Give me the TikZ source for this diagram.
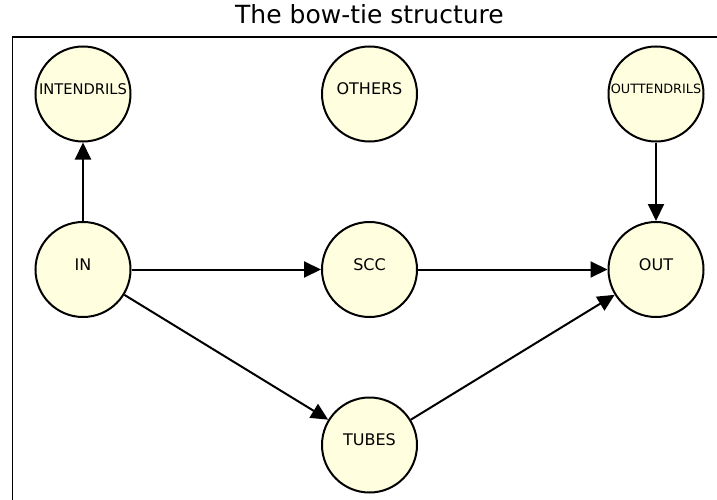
\documentclass[tikz,border=0pt]{standalone}
\usepackage{fontspec}
\setmainfont{DejaVu Sans}
\usetikzlibrary{arrows.meta}
\definecolor{nodefill}{HTML}{FFFFE0}
\tikzset{
  bnode/.style={circle, draw=black, line width=2pt, fill=nodefill, minimum size=95pt, inner sep=0pt},
  lbl/.style={font=\fontsize{16}{19}\selectfont, yshift=5pt},
  edge/.style={line width=2pt, -{Triangle[length=17pt,width=16pt]}},
  spine/.style={line width=1.5pt, line cap=rect}
}
\begin{document}
\begin{tikzpicture}[x=1pt,y=-1pt]
\useasboundingbox (0,0) rectangle (717,500);
\node[anchor=base, font=\fontsize{25}{30}\selectfont] (title) at (369.5,24) {The bow-tie structure};
\coordinate (c1) at (12.5,500);
\coordinate (c2) at (12.5,37);
\coordinate (c3) at (717,37);
\draw[spine] (c1) -- (c2) -- (c3);
\node[bnode, label={[lbl, font=\fontsize{14.7}{17}\selectfont]center:INTENDRILS}] (intendrils) at (83,94) {};
\node[bnode, label={[lbl]center:OTHERS}] (others) at (369.5,94) {};
\node[bnode, label={[lbl, font=\fontsize{12.8}{15}\selectfont]center:OUTTENDRILS}] (outtendrils) at (656,94) {};
\node[bnode, label={[lbl]center:IN}] (in) at (83,269.5) {};
\node[bnode, label={[lbl]center:SCC}] (scc) at (369.5,269.5) {};
\node[bnode, label={[lbl]center:OUT}] (out) at (656,269.5) {};
\node[bnode, label={[lbl]center:TUBES}] (tubes) at (369.5,445) {};
\draw[edge] (in) -- (intendrils);
\draw[edge] (in) -- (scc);
\draw[edge] (in) -- (tubes);
\draw[edge] (scc) -- (out);
\draw[edge] (tubes) -- (out);
\draw[edge] (outtendrils) -- (out);
\end{tikzpicture}
\end{document}
